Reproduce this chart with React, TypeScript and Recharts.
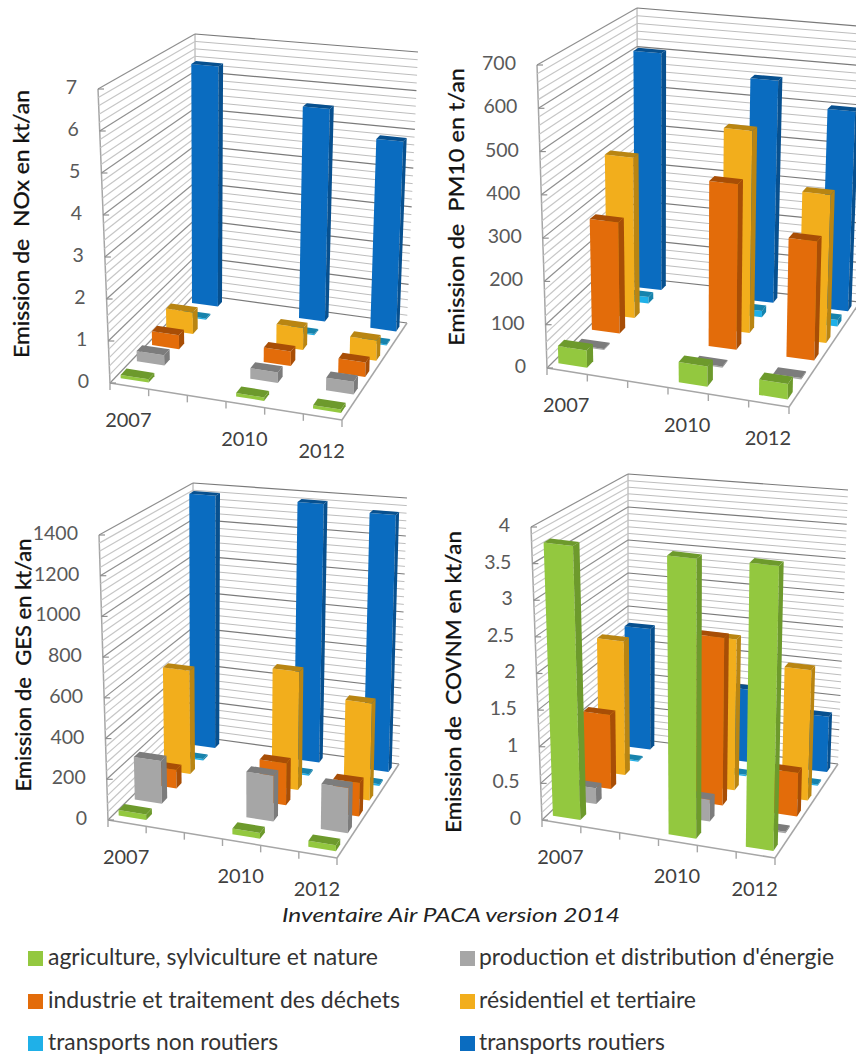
import React from "react";
import { BarChart, Bar, XAxis, YAxis, CartesianGrid, Label } from "recharts";

const years = ["2007", "2008", "2009", "2010", "2011", "2012"];
const labelledYears = ["2007", "2010", "2012"];

const seriesNames = [
  "agriculture, sylviculture et nature",
  "production et distribution d'énergie",
  "industrie et traitement des déchets",
  "résidentiel et tertiaire",
  "transports non routiers",
  "transports routiers",
];
const seriesFront = ["#93c83f", "#a6a6a6", "#e36c0a", "#f2ae1c", "#1fb0e8", "#0a6cc0"];
const seriesDark = ["#6d9a2c", "#7c7c7c", "#a84e06", "#b98512", "#1683ad", "#07508f"];

// values per series, for 2007, 2010, 2012
const noxValues = [
  [0.08, 0.08, 0.08],
  [0.25, 0.25, 0.3],
  [0.35, 0.35, 0.35],
  [0.55, 0.55, 0.5],
  [0.03, 0.03, 0.03],
  [6.35, 5.5, 4.85],
];
const pm10Values = [
  [40, 46, 35],
  [3, 3, 3],
  [268, 395, 282],
  [395, 492, 358],
  [16, 16, 16],
  [605, 562, 502],
];
const gesValues = [
  [28, 28, 28],
  [215, 225, 220],
  [95, 210, 165],
  [540, 605, 490],
  [8, 8, 8],
  [1370, 1370, 1340],
];
const covnmValues = [
  [3.75, 3.77, 3.8],
  [0.22, 0.3, 0.02],
  [1.05, 2.34, 0.6],
  [1.93, 2.14, 1.83],
  [0.02, 0.02, 0.02],
  [1.8, 1.06, 0.8],
];

const noxTicks = ["0", "1", "2", "3", "4", "5", "6", "7"];
const pm10Ticks = ["0", "100", "200", "300", "400", "500", "600", "700"];
const gesTicks = ["0", "200", "400", "600", "800", "1000", "1200", "1400"];
const covnmTicks = ["0", "0.5", "1", "1.5", "2", "2.5", "3", "3.5", "4"];

type Pt = [number, number];
type Panel = {
  title: string; titleLen: number; titleAt: Pt;
  values: number[][]; ticks: string[]; minorPerMajor: number;
  box: [number, number, number, number];
  FL: Pt; FR: Pt; BL: Pt; BR: Pt;
  tFL: Pt; tFR: Pt; tBL: Pt; tBR: Pt;
};

const panels: Panel[] = [
  {
    title: "Emission de\u00a0\u00a0NOx en kt/an", titleLen: 268, titleAt: [23, 224],
    values: noxValues, ticks: noxTicks, minorPerMajor: 5,
    box: [0, 0, 428, 470],
    FL: [110, 383], FR: [342, 420], BL: [195, 294], BR: [407, 323],
    tFL: [98, 89], tFR: [347, 114], tBL: [195, 34], tBR: [418, 52],
  },
  {
    title: "Emission de\u00a0\u00a0PM10 en t/an", titleLen: 278, titleAt: [458, 207],
    values: pm10Values, ticks: pm10Ticks, minorPerMajor: 5,
    box: [430, 0, 426, 470],
    FL: [547, 368], FR: [789, 407], BL: [638, 278], BR: [860, 302],
    tFL: [537, 65], tFR: [794, 95], tBL: [637, 8], tBR: [871, 27],
  },
  {
    title: "Emission de\u00a0\u00a0GES en kt/an", titleLen: 253, titleAt: [25, 665],
    values: gesValues, ticks: gesTicks, minorPerMajor: 5,
    box: [0, 470, 428, 440],
    FL: [108, 820], FR: [337, 858], BL: [193, 736], BR: [399, 764],
    tFL: [99, 535], tFR: [342, 562], tBL: [193, 483], tBR: [407, 498],
  },
  {
    title: "Emission de\u00a0\u00a0COVNM en kt/an", titleLen: 302, titleAt: [455, 682],
    values: covnmValues, ticks: covnmTicks, minorPerMajor: 5,
    box: [430, 470, 426, 440],
    FL: [542, 820], FR: [775, 858], BL: [628, 738], BR: [838, 764],
    tFL: [531, 527], tFR: [781, 556], tBL: [628, 474], tBR: [848, 490],
  },
];

const MARGIN = 20;
const FONT = "Lato, 'Open Sans', sans-serif";

function makeProjection(p: Panel) {
  const bl = (a: number, b: number, c: number, d: number, u: number, v: number) =>
    (a * (1 - u) + b * u) * (1 - v) + (c * (1 - u) + d * u) * v;
  return (u: number, v0: number, h: number): Pt => {
    // depth foreshortening of the 3D view
    const v = v0 + 0.2 * v0 * (1 - v0);
    const bx = bl(p.FL[0], p.FR[0], p.BL[0], p.BR[0], u, v);
    const by = bl(p.FL[1], p.FR[1], p.BL[1], p.BR[1], u, v);
    const tx = bl(p.tFL[0], p.tFR[0], p.tBL[0], p.tBR[0], u, v);
    const ty = bl(p.tFL[1], p.tFR[1], p.tBL[1], p.tBR[1], u, v);
    return [bx + (tx - bx) * h - p.box[0], by + (ty - by) * h - p.box[1]];
  };
}

const poly = (pts: Pt[]) => pts.map((q) => `${q[0].toFixed(1)},${q[1].toFixed(1)}`).join(" ");

function PanelChart({ p }: { p: Panel }) {
  const [bx, by, w, h] = p.box;
  const plotW = w - 2 * MARGIN;
  const plotH = h - 2 * MARGIN;
  const project = makeProjection(p);
  const maxV = Number(p.ticks[p.ticks.length - 1]);
  const nMajor = p.ticks.length - 1;
  const gridValues: number[] = [];
  for (let i = 0; i <= nMajor * p.minorPerMajor; i++) {
    gridValues.push((i * maxV) / (nMajor * p.minorPerMajor));
  }
  const data = years.map((year) => {
    const row: Record<string, any> = { year };
    const k = labelledYears.indexOf(year);
    p.values.forEach((vals, s) => {
      row["s" + s] = k >= 0 ? vals[k] : null;
    });
    return row;
  });
  const barSize = Math.round((plotW / 6) * 0.72);

  const fracH = (y: number) => (MARGIN + plotH - y) / plotH;

  const gridLine = (props: any) => {
    const hh = fracH(props.y1);
    const m = hh * nMajor;
    const isMajor = Math.abs(m - Math.round(m)) < 0.01;
    const a = project(0, 0, hh);
    const c = project(0, 1, hh);
    const d = project(1, 1, hh);
    const isFloor = hh < 0.001;
    return (
      <g key={props.key}>
        <line x1={a[0]} y1={a[1]} x2={c[0]} y2={c[1]} stroke={isMajor ? "#8f8f8f" : "#c6c6c6"} strokeWidth={1.2} />
        <line x1={c[0]} y1={c[1]} x2={d[0]} y2={d[1]} stroke={isMajor ? "#7a7a7a" : "#bdbdbd"} strokeWidth={isMajor ? 1.2 : 1} />
        {isFloor ? (
          <g stroke="#a6a6a6" strokeWidth={1.5}>
            <line x1={project(0, 0, 0)[0]} y1={project(0, 0, 0)[1]} x2={project(0, 0, 1)[0]} y2={project(0, 0, 1)[1]} />
            <line x1={project(0, 0, 0)[0]} y1={project(0, 0, 0)[1]} x2={project(1, 0, 0)[0]} y2={project(1, 0, 0)[1]} />
            <line x1={project(1, 0, 0)[0]} y1={project(1, 0, 0)[1]} x2={project(1, 1, 0)[0]} y2={project(1, 1, 0)[1]} />
            <line x1={project(0, 1, 0)[0]} y1={project(0, 1, 0)[1]} x2={project(0, 1, 1)[0]} y2={project(0, 1, 1)[1]} strokeWidth={1} />
          </g>
        ) : null}
      </g>
    );
  };

  const xTick = (props: any) => {
    const u = (props.x - MARGIN) / plotW;
    const du = 1 / 12;
    const year = props.payload.value;
    const tickAt = (uu: number) => {
      const q = project(uu, 0, 0);
      return <line x1={q[0]} y1={q[1]} x2={q[0]} y2={q[1] + 7} stroke="#a6a6a6" strokeWidth={1.4} />;
    };
    const c = project(u, 0, 0);
    return (
      <g>
        {tickAt(u - du)}
        {year === years[years.length - 1] ? tickAt(u + du) : null}
        {labelledYears.includes(year) ? (
          <text x={c[0] - 1} y={c[1] + 36} textAnchor="middle" dominantBaseline="middle" fontFamily={FONT} fontSize={20} fill="#404040">
            {year}
          </text>
        ) : null}
      </g>
    );
  };

  const yTick = (props: any) => {
    const hh = fracH(props.y);
    const q = project(0, 0, hh);
    return (
      <g>
        <line x1={q[0]} y1={q[1]} x2={q[0] + 6} y2={q[1]} stroke="#8f8f8f" strokeWidth={1.2} />
        <text x={q[0] - 21} y={q[1]} textAnchor="end" dominantBaseline="middle" fontFamily={FONT} fontSize={19.5} fill="#595959">
          {props.payload.value}
        </text>
      </g>
    );
  };

  const barShape = (s: number) => (props: any) => {
    if (props.payload == null || props.payload["s" + s] == null) return <g />;
    const uc = (props.x + props.width / 2 - MARGIN) / plotW;
    const du = props.width / plotW / 2;
    const vc = (s + 0.5) / 6;
    const dv = 0.03;
    const hh = fracH(props.y);
    const A0 = project(uc - du, vc - dv, 0);
    const B0 = project(uc + du, vc - dv, 0);
    const C0 = project(uc + du, vc + dv, 0);
    const At = project(uc - du, vc - dv, hh);
    const Bt = project(uc + du, vc - dv, hh);
    const Ct = project(uc + du, vc + dv, hh);
    const Dt = project(uc - du, vc + dv, hh);
    return (
      <g>
        <polygon points={poly([A0, B0, Bt, At])} fill={seriesFront[s]} />
        <polygon points={poly([B0, C0, Ct, Bt])} fill={seriesDark[s]} />
        <polygon points={poly([At, Bt, Ct, Dt])} fill={seriesDark[s]} />
      </g>
    );
  };

  const titleX = p.titleAt[0] - bx;
  const titleY = p.titleAt[1] - by;

  return (
    <div style={{ position: "absolute", left: bx, top: by, width: w, height: h, overflow: "hidden" }}>
      <BarChart
        width={w}
        height={h}
        data={data}
        margin={{ top: MARGIN, right: MARGIN, bottom: MARGIN - 1, left: MARGIN - 1 }}
        barSize={barSize}
        barGap={-barSize}
      >
        <CartesianGrid horizontal={gridLine as any} vertical={false} horizontalValues={gridValues} syncWithTicks={false} />
        <XAxis dataKey="year" height={1} axisLine={false} tickLine={false} interval={0} tick={xTick as any} />
        <YAxis
          type="number"
          width={1}
          domain={[0, maxV]}
          ticks={p.ticks.map(Number)}
          interval={0}
          axisLine={false}
          tickLine={false}
          tick={yTick as any}
        >
          <Label
            content={() => (
              <text
                transform={`translate(${titleX},${titleY}) rotate(-90)`}
                textAnchor="middle"
                dominantBaseline="middle"
                fontFamily={FONT}
                fontSize={22}
                fill="#111"
                stroke="#111"
                strokeWidth={0.35}
                textLength={p.titleLen}
                lengthAdjust="spacingAndGlyphs"
              >
                {p.title}
              </text>
            )}
          />
        </YAxis>
        {[5, 4, 3, 2, 1, 0].map((s) => (
          <Bar key={s} dataKey={"s" + s} isAnimationActive={false} shape={barShape(s) as any} />
        ))}
      </BarChart>
    </div>
  );
}

const legendPos: Pt[] = [
  [28, 48], [460, 479],
  [28, 48], [460, 479],
  [28, 48], [460, 479],
];
const legendRowY = [958, 958, 1001, 1001, 1043, 1043];
const legendLen = [330, 355, 352, 217, 230, 186];

export default function App() {
  return (
    <div style={{ position: "absolute", left: 0, top: 0, width: 856, height: 1055, overflow: "hidden", background: "#fff" }}>
      {panels.map((p) => (
        <PanelChart key={p.title} p={p} />
      ))}
      <svg width={856} height={1055} style={{ position: "absolute", left: 0, top: 0, pointerEvents: "none" }}>
        <text
          x={282}
          y={922}
          fontFamily={FONT}
          fontStyle="italic"
          fontSize={20}
          fill="#222"
          textLength={338}
          lengthAdjust="spacingAndGlyphs"
        >
          Inventaire Air PACA version 2014
        </text>
        {seriesNames.map((name, i) => (
          <g key={name}>
            <rect x={legendPos[i][0]} y={legendRowY[i] - 7} width={15} height={15} fill={seriesFront[i]} />
            <text
              x={legendPos[i][1]}
              y={legendRowY[i] + 7}
              fontFamily={FONT}
              fontSize={24}
              fill="#333"
              textLength={legendLen[i]}
              lengthAdjust="spacingAndGlyphs"
            >
              {name}
            </text>
          </g>
        ))}
      </svg>
    </div>
  );
}
